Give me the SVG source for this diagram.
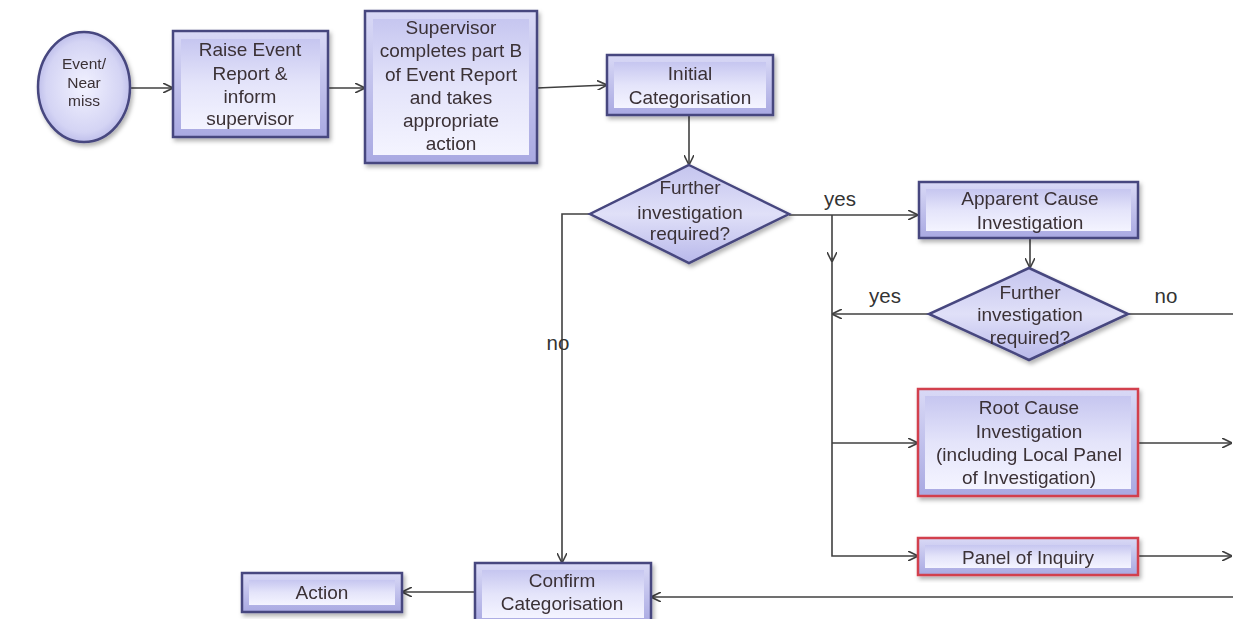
<svg xmlns="http://www.w3.org/2000/svg" width="1233" height="619" viewBox="0 0 1233 619">
<style>
.t{font-family:"Liberation Sans",Arial,sans-serif;font-size:19px;fill:#3a3036;text-anchor:middle}
.s{font-size:15.5px}
.lbl{font-family:"Liberation Sans",Arial,sans-serif;font-size:20.5px;fill:#333;text-anchor:middle}
.box{fill:url(#bev);stroke:#47477f;stroke-width:2.5}
.red{stroke:#d2404e}
.in{fill:url(#face);stroke:none}
.c{fill:none;stroke:#404040;stroke-width:1.6}
</style>
<defs>
<linearGradient id="bev" x1="0" y1="0" x2="0" y2="1">
<stop offset="0" stop-color="#d9d9f6"/><stop offset="1" stop-color="#a9a9e2"/>
</linearGradient>
<linearGradient id="face" x1="0" y1="0" x2="0" y2="1">
<stop offset="0" stop-color="#c6c6f0"/><stop offset="0.5" stop-color="#e4e4fa"/><stop offset="1" stop-color="#f4f4ff"/>
</linearGradient>
<radialGradient id="circ" cx="0.5" cy="0.5" r="0.55">
<stop offset="0" stop-color="#f2f2ff"/><stop offset="0.75" stop-color="#d4d4f4"/><stop offset="1" stop-color="#b4b4e6"/>
</radialGradient>
<linearGradient id="dia" x1="0" y1="0" x2="0" y2="1">
<stop offset="0" stop-color="#c4c4ee"/><stop offset="0.5" stop-color="#e0e0f8"/><stop offset="1" stop-color="#b8b8ea"/>
</linearGradient>
<filter id="sh" x="-10%" y="-10%" width="130%" height="130%">
<feDropShadow dx="2" dy="3" stdDeviation="2" flood-color="#000" flood-opacity="0.3"/>
</filter>
<marker id="ar" viewBox="0 0 10 10" refX="10" refY="5" markerWidth="10" markerHeight="10" markerUnits="userSpaceOnUse" orient="auto">
<path d="M0,0 L10,5 L0,10" fill="none" stroke="#404040" stroke-width="1.6"/>
</marker>
</defs>

<g id="connectors">
<path class="c" d="M130,88 L173,88" marker-end="url(#ar)"/>
<path class="c" d="M328,88 L365,88" marker-end="url(#ar)"/>
<path class="c" d="M537,88 L607,85" marker-end="url(#ar)"/>
<path class="c" d="M689,115 L689,165" marker-end="url(#ar)"/>
<path class="c" d="M590,214 L562,214 L562,563" marker-end="url(#ar)"/>
<path class="c" d="M789,215 L918,215" marker-end="url(#ar)"/>
<path class="c" d="M832,215 L832,262" marker-end="url(#ar)"/>
<path class="c" d="M832,258 L832,556 L918,556" marker-end="url(#ar)"/>
<path class="c" d="M832,443 L918,443" marker-end="url(#ar)"/>
<path class="c" d="M1030,238 L1030,268" marker-end="url(#ar)"/>
<path class="c" d="M929,314 L832,314" marker-end="url(#ar)"/>
<path class="c" d="M1128,314 L1233,314"/>
<path class="c" d="M1138,443 L1232,443" marker-end="url(#ar)"/>
<path class="c" d="M1138,556 L1232,556" marker-end="url(#ar)"/>
<path class="c" d="M1233,597 L651,597" marker-end="url(#ar)"/>
<path class="c" d="M475,592 L402,592" marker-end="url(#ar)"/>
<text class="lbl" x="840" y="206">yes</text>
<text class="lbl" x="558" y="350">no</text>
<text class="lbl" x="885" y="303">yes</text>
<text class="lbl" x="1166" y="303">no</text>
</g>

<g id="event" filter="url(#sh)">
<ellipse cx="84" cy="87" rx="46" ry="55" fill="url(#circ)" stroke="#47477f" stroke-width="2.5"/>
<text class="t s" x="84" y="69">Event/</text>
<text class="t s" x="84" y="88">Near</text>
<text class="t s" x="84" y="106">miss</text>
</g>

<g id="raise" filter="url(#sh)">
<rect class="box" x="173" y="31" width="155" height="106"/>
<rect class="in" x="181" y="39" width="139" height="90"/>
<text class="t" x="250" y="56">Raise Event</text>
<text class="t" x="250" y="80">Report &amp;</text>
<text class="t" x="250" y="103">inform</text>
<text class="t" x="250" y="125">supervisor</text>
</g>

<g id="supervisor" filter="url(#sh)">
<rect class="box" x="365" y="11" width="172" height="152"/>
<rect class="in" x="373" y="19" width="156" height="136"/>
<text class="t" x="451" y="34">Supervisor</text>
<text class="t" x="451" y="57">completes part B</text>
<text class="t" x="451" y="81">of Event Report</text>
<text class="t" x="451" y="104">and takes</text>
<text class="t" x="451" y="127">appropriate</text>
<text class="t" x="451" y="150">action</text>
</g>

<g id="initial" filter="url(#sh)">
<rect class="box" x="607" y="55" width="166" height="60"/>
<rect class="in" x="614" y="62" width="152" height="46"/>
<text class="t" x="690" y="80">Initial</text>
<text class="t" x="690" y="104">Categorisation</text>
</g>

<g id="decision1" filter="url(#sh)">
<polygon points="689,165 789,214 689,263 590,214" fill="url(#dia)" stroke="#47477f" stroke-width="2.5"/>
<text class="t" x="690" y="194">Further</text>
<text class="t" x="690" y="219">investigation</text>
<text class="t" x="690" y="240">required?</text>
</g>

<g id="apparent" filter="url(#sh)">
<rect class="box" x="919" y="182" width="219" height="56"/>
<rect class="in" x="926" y="189" width="205" height="42"/>
<text class="t" x="1030" y="205">Apparent Cause</text>
<text class="t" x="1030" y="229">Investigation</text>
</g>

<g id="decision2" filter="url(#sh)">
<polygon points="1029,268 1128,314 1029,360 929,314" fill="url(#dia)" stroke="#47477f" stroke-width="2.5"/>
<text class="t" x="1030" y="299">Further</text>
<text class="t" x="1030" y="321">investigation</text>
<text class="t" x="1030" y="344">required?</text>
</g>

<g id="rootcause" filter="url(#sh)">
<rect class="box red" x="918" y="389" width="220" height="107"/>
<rect class="in" x="925" y="396" width="206" height="93"/>
<text class="t" x="1029" y="414">Root Cause</text>
<text class="t" x="1029" y="438">Investigation</text>
<text class="t" x="1029" y="461">(including Local Panel</text>
<text class="t" x="1029" y="484">of Investigation)</text>
</g>

<g id="inquiry" filter="url(#sh)">
<rect class="box red" x="918" y="538" width="220" height="37"/>
<rect class="in" x="925" y="545" width="206" height="23"/>
<text class="t" x="1028" y="564">Panel of Inquiry</text>
</g>

<g id="confirm" filter="url(#sh)">
<rect class="box" x="475" y="563" width="176" height="62"/>
<rect class="in" x="482" y="570" width="162" height="48"/>
<text class="t" x="562" y="587">Confirm</text>
<text class="t" x="562" y="610">Categorisation</text>
</g>

<g id="action" filter="url(#sh)">
<rect class="box" x="242" y="573" width="160" height="39"/>
<rect class="in" x="249" y="580" width="146" height="25"/>
<text class="t" x="322" y="599">Action</text>
</g>
</svg>
